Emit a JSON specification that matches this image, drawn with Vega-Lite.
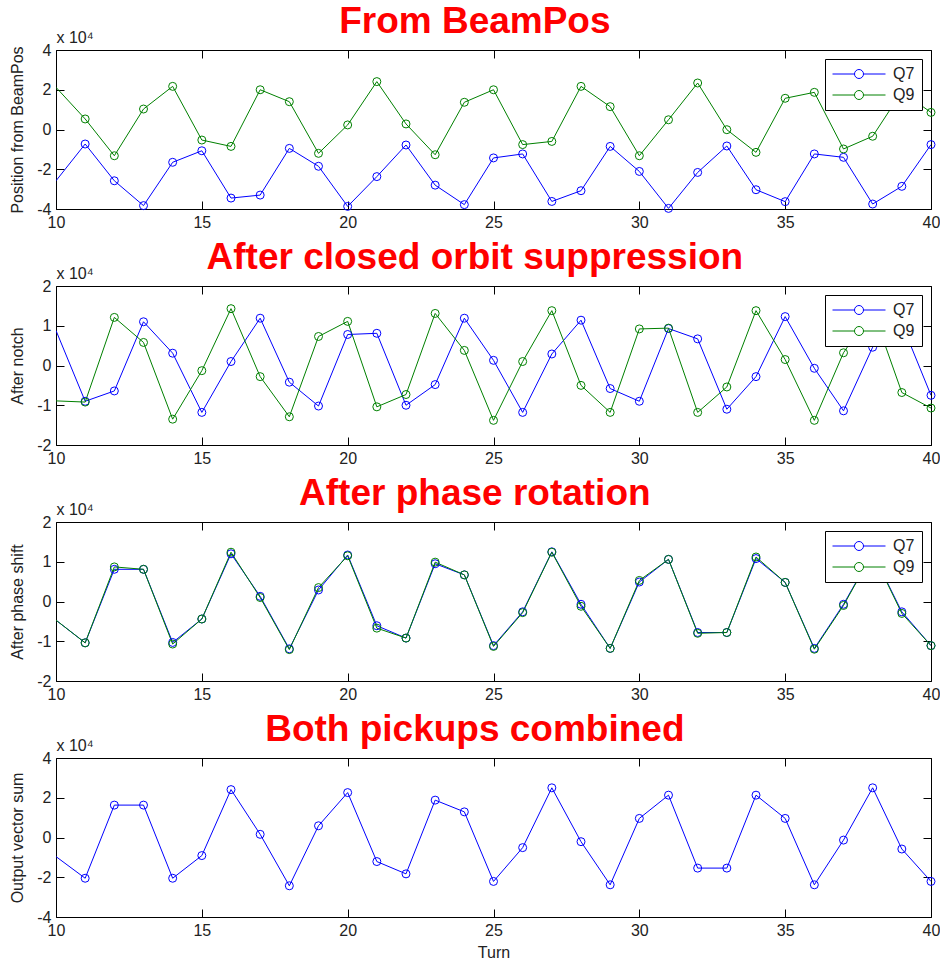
{
  "$schema": "https://vega.github.io/schema/vega-lite/v6.json",
  "background": "white",
  "padding": {"left": 9, "top": 2, "right": 0, "bottom": 2},
  "config": {
    "font": "Liberation Sans",
    "view": {"stroke": "black", "strokeWidth": 1},
    "axis": {"grid": false, "domain": false, "tickColor": "black", "tickWidth": 1, "tickSize": -8, "labelFont": "Liberation Sans", "labelFontSize": 16, "labelColor": "#222222", "titleFont": "Liberation Sans", "titleFontSize": 16, "titleFontWeight": "normal", "titleColor": "#222222", "labelFlush": false, "labelOverlap": false, "labelPadding": 13},
    "axisY": {"titlePadding": 11},
    "axisX": {"titlePadding": 6},
    "title": {"font": "Liberation Sans", "fontSize": 37, "fontWeight": "bold", "color": "#ff0000", "anchor": "middle", "frame": "bounds", "baseline": "alphabetic", "offset": -12},
    "legend": {"orient": "top-right", "offset": 9, "fillColor": "white", "strokeColor": "black", "padding": 7, "labelFont": "Liberation Sans", "labelFontSize": 16, "labelColor": "#222222", "symbolType": "M-1,0L-0.17,0M0.17,0L1,0M0.17,0A0.17,0.17,0,1,1,-0.17,0A0.17,0.17,0,1,1,0.17,0", "symbolSize": 2809, "symbolStrokeWidth": 1, "symbolFillColor": "transparent", "rowPadding": 5, "labelOffset": 7, "clipHeight": 16},
    "concat": {"spacing": 7}
  },
  "resolve": {"scale": {"color": "independent"}, "legend": {"color": "independent"}},
  "datasets": {
    "p1": [
      {"turn":10,"series":"Q7","value":-25800},{"turn":11,"series":"Q7","value":-7300},{"turn":12,"series":"Q7","value":-25800},{"turn":13,"series":"Q7","value":-38300},{"turn":14,"series":"Q7","value":-16500},{"turn":15,"series":"Q7","value":-10700},{"turn":16,"series":"Q7","value":-34500},{"turn":17,"series":"Q7","value":-33000},{"turn":18,"series":"Q7","value":-9500},{"turn":19,"series":"Q7","value":-18500},{"turn":20,"series":"Q7","value":-38700},{"turn":21,"series":"Q7","value":-23700},{"turn":22,"series":"Q7","value":-7800},{"turn":23,"series":"Q7","value":-28000},{"turn":24,"series":"Q7","value":-37800},{"turn":25,"series":"Q7","value":-14300},{"turn":26,"series":"Q7","value":-12300},{"turn":27,"series":"Q7","value":-36200},{"turn":28,"series":"Q7","value":-30800},{"turn":29,"series":"Q7","value":-8500},{"turn":30,"series":"Q7","value":-21100},{"turn":31,"series":"Q7","value":-39700},{"turn":32,"series":"Q7","value":-21600},{"turn":33,"series":"Q7","value":-8300},{"turn":34,"series":"Q7","value":-30300},{"turn":35,"series":"Q7","value":-36300},{"turn":36,"series":"Q7","value":-12300},{"turn":37,"series":"Q7","value":-14000},{"turn":38,"series":"Q7","value":-37500},{"turn":39,"series":"Q7","value":-28600},{"turn":40,"series":"Q7","value":-7600},
      {"turn":10,"series":"Q9","value":21200},{"turn":11,"series":"Q9","value":5300},{"turn":12,"series":"Q9","value":-13200},{"turn":13,"series":"Q9","value":10300},{"turn":14,"series":"Q9","value":21700},{"turn":15,"series":"Q9","value":-5300},{"turn":16,"series":"Q9","value":-8500},{"turn":17,"series":"Q9","value":20000},{"turn":18,"series":"Q9","value":14000},{"turn":19,"series":"Q9","value":-12000},{"turn":20,"series":"Q9","value":2300},{"turn":21,"series":"Q9","value":24100},{"turn":22,"series":"Q9","value":2800},{"turn":23,"series":"Q9","value":-12700},{"turn":24,"series":"Q9","value":13700},{"turn":25,"series":"Q9","value":20000},{"turn":26,"series":"Q9","value":-7600},{"turn":27,"series":"Q9","value":-6000},{"turn":28,"series":"Q9","value":21700},{"turn":29,"series":"Q9","value":11500},{"turn":30,"series":"Q9","value":-13200},{"turn":31,"series":"Q9","value":4900},{"turn":32,"series":"Q9","value":23400},{"turn":33,"series":"Q9","value":-100},{"turn":34,"series":"Q9","value":-11500},{"turn":35,"series":"Q9","value":15700},{"turn":36,"series":"Q9","value":18700},{"turn":37,"series":"Q9","value":-9800},{"turn":38,"series":"Q9","value":-3400},{"turn":39,"series":"Q9","value":19000},{"turn":40,"series":"Q9","value":8600}
    ],
    "p2": [
      {"turn":10,"series":"Q7","value":8800},{"turn":11,"series":"Q7","value":-9000},{"turn":12,"series":"Q7","value":-6400},{"turn":13,"series":"Q7","value":11000},{"turn":14,"series":"Q7","value":3100},{"turn":15,"series":"Q7","value":-11800},{"turn":16,"series":"Q7","value":1000},{"turn":17,"series":"Q7","value":11900},{"turn":18,"series":"Q7","value":-4200},{"turn":19,"series":"Q7","value":-10200},{"turn":20,"series":"Q7","value":7800},{"turn":21,"series":"Q7","value":8100},{"turn":22,"series":"Q7","value":-10000},{"turn":23,"series":"Q7","value":-4800},{"turn":24,"series":"Q7","value":11900},{"turn":25,"series":"Q7","value":1300},{"turn":26,"series":"Q7","value":-11800},{"turn":27,"series":"Q7","value":2900},{"turn":28,"series":"Q7","value":11400},{"turn":29,"series":"Q7","value":-5800},{"turn":30,"series":"Q7","value":-9000},{"turn":31,"series":"Q7","value":9300},{"turn":32,"series":"Q7","value":6700},{"turn":33,"series":"Q7","value":-11000},{"turn":34,"series":"Q7","value":-2800},{"turn":35,"series":"Q7","value":12300},{"turn":36,"series":"Q7","value":-700},{"turn":37,"series":"Q7","value":-11400},{"turn":38,"series":"Q7","value":4600},{"turn":39,"series":"Q7","value":10500},{"turn":40,"series":"Q7","value":-7500},
      {"turn":10,"series":"Q9","value":-8900},{"turn":11,"series":"Q9","value":-9200},{"turn":12,"series":"Q9","value":12100},{"turn":13,"series":"Q9","value":5800},{"turn":14,"series":"Q9","value":-13500},{"turn":15,"series":"Q9","value":-1300},{"turn":16,"series":"Q9","value":14300},{"turn":17,"series":"Q9","value":-2800},{"turn":18,"series":"Q9","value":-12900},{"turn":19,"series":"Q9","value":7300},{"turn":20,"series":"Q9","value":11100},{"turn":21,"series":"Q9","value":-10400},{"turn":22,"series":"Q9","value":-7300},{"turn":23,"series":"Q9","value":13100},{"turn":24,"series":"Q9","value":3800},{"turn":25,"series":"Q9","value":-13800},{"turn":26,"series":"Q9","value":1000},{"turn":27,"series":"Q9","value":13800},{"turn":28,"series":"Q9","value":-5000},{"turn":29,"series":"Q9","value":-11800},{"turn":30,"series":"Q9","value":9200},{"turn":31,"series":"Q9","value":9400},{"turn":32,"series":"Q9","value":-11800},{"turn":33,"series":"Q9","value":-5400},{"turn":34,"series":"Q9","value":13800},{"turn":35,"series":"Q9","value":1500},{"turn":36,"series":"Q9","value":-13800},{"turn":37,"series":"Q9","value":3200},{"turn":38,"series":"Q9","value":14000},{"turn":39,"series":"Q9","value":-6800},{"turn":40,"series":"Q9","value":-10700}
    ],
    "p3": [
      {"turn":10,"series":"Q7","value":-4700},{"turn":11,"series":"Q7","value":-10400},{"turn":12,"series":"Q7","value":8100},{"turn":13,"series":"Q7","value":8100},{"turn":14,"series":"Q7","value":-10300},{"turn":15,"series":"Q7","value":-4400},{"turn":16,"series":"Q7","value":12000},{"turn":17,"series":"Q7","value":1300},{"turn":18,"series":"Q7","value":-11900},{"turn":19,"series":"Q7","value":2900},{"turn":20,"series":"Q7","value":11700},{"turn":21,"series":"Q7","value":-6100},{"turn":22,"series":"Q7","value":-9200},{"turn":23,"series":"Q7","value":9500},{"turn":24,"series":"Q7","value":6700},{"turn":25,"series":"Q7","value":-11100},{"turn":26,"series":"Q7","value":-2600},{"turn":27,"series":"Q7","value":12500},{"turn":28,"series":"Q7","value":-700},{"turn":29,"series":"Q7","value":-11800},{"turn":30,"series":"Q7","value":4900},{"turn":31,"series":"Q7","value":10600},{"turn":32,"series":"Q7","value":-7800},{"turn":33,"series":"Q7","value":-7800},{"turn":34,"series":"Q7","value":10800},{"turn":35,"series":"Q7","value":4800},{"turn":36,"series":"Q7","value":-11800},{"turn":37,"series":"Q7","value":-700},{"turn":38,"series":"Q7","value":12200},{"turn":39,"series":"Q7","value":-2600},{"turn":40,"series":"Q7","value":-11100},
      {"turn":10,"series":"Q9","value":-4700},{"turn":11,"series":"Q9","value":-10400},{"turn":12,"series":"Q9","value":8700},{"turn":13,"series":"Q9","value":8100},{"turn":14,"series":"Q9","value":-10700},{"turn":15,"series":"Q9","value":-4400},{"turn":16,"series":"Q9","value":12400},{"turn":17,"series":"Q9","value":1000},{"turn":18,"series":"Q9","value":-12100},{"turn":19,"series":"Q9","value":3500},{"turn":20,"series":"Q9","value":11500},{"turn":21,"series":"Q9","value":-6700},{"turn":22,"series":"Q9","value":-9200},{"turn":23,"series":"Q9","value":9900},{"turn":24,"series":"Q9","value":6700},{"turn":25,"series":"Q9","value":-11300},{"turn":26,"series":"Q9","value":-2800},{"turn":27,"series":"Q9","value":12400},{"turn":28,"series":"Q9","value":-1200},{"turn":29,"series":"Q9","value":-11800},{"turn":30,"series":"Q9","value":5300},{"turn":31,"series":"Q9","value":10600},{"turn":32,"series":"Q9","value":-8000},{"turn":33,"series":"Q9","value":-7800},{"turn":34,"series":"Q9","value":11200},{"turn":35,"series":"Q9","value":4800},{"turn":36,"series":"Q9","value":-12000},{"turn":37,"series":"Q9","value":-1000},{"turn":38,"series":"Q9","value":12200},{"turn":39,"series":"Q9","value":-3000},{"turn":40,"series":"Q9","value":-11100}
    ],
    "p4": [
      {"turn":10,"value":-9600},{"turn":11,"value":-20500},{"turn":12,"value":16300},{"turn":13,"value":16300},{"turn":14,"value":-20500},{"turn":15,"value":-9100},{"turn":16,"value":24100},{"turn":17,"value":1600},{"turn":18,"value":-24300},{"turn":19,"value":5900},{"turn":20,"value":22600},{"turn":21,"value":-12100},{"turn":22,"value":-18300},{"turn":23,"value":18800},{"turn":24,"value":12900},{"turn":25,"value":-22100},{"turn":26,"value":-5100},{"turn":27,"value":25000},{"turn":28,"value":-2100},{"turn":29,"value":-23800},{"turn":30,"value":9600},{"turn":31,"value":21300},{"turn":32,"value":-15400},{"turn":33,"value":-15400},{"turn":34,"value":21300},{"turn":35,"value":9600},{"turn":36,"value":-23800},{"turn":37,"value":-1300},{"turn":38,"value":25000},{"turn":39,"value":-5800},{"turn":40,"value":-22100}
    ]
  },
  "vconcat": [
    {
      "title": {"text": "From BeamPos"},
      "width": 875, "height": 159,
      "data": {"name": "p1"},
      "layer": [
        {"mark": {"type": "line", "strokeWidth": 1, "clip": true},
         "encoding": {
           "x": {"field": "turn", "type": "quantitative", "scale": {"domain": [10, 40], "nice": false, "zero": false}, "axis": {"orient": "bottom", "values": [10,15,20,25,30,35,40], "title": null}},
           "y": {"field": "value", "type": "quantitative", "scale": {"domain": [-40000, 40000], "nice": false, "zero": false}, "axis": {"orient": "left", "values": [-40000,-20000,0,20000,40000], "labelExpr": "datum.value/10000", "title": "Position from BeamPos"}},
           "color": {"field": "series", "type": "nominal", "scale": {"domain": ["Q7","Q9"], "range": ["#0000ff","#008000"]}, "legend": {"title": null}}
         }},
        {"transform": [{"filter": "datum.turn > 10"}],
         "mark": {"type": "point", "shape": "circle", "filled": false, "size": 64, "strokeWidth": 1, "opacity": 1},
         "encoding": {
           "x": {"field": "turn", "type": "quantitative", "axis": null},
           "y": {"field": "value", "type": "quantitative", "axis": null},
           "color": {"field": "series", "type": "nominal"}
         }},
        {"mark": {"type": "point", "opacity": 0, "clip": true},
         "encoding": {
           "x": {"field": "turn", "type": "quantitative", "axis": {"orient": "top", "values": [10,15,20,25,30,35,40], "labels": false, "title": "x 10⁴", "titleX": 0, "titleY": -8, "titleAlign": "left", "titleBaseline": "alphabetic", "titleAngle": 0}},
           "y": {"field": "value", "type": "quantitative", "axis": {"orient": "right", "values": [-40000,-20000,0,20000,40000], "labels": false, "title": null}}
         }}
      ],
      "resolve": {"axis": {"x": "independent", "y": "independent"}}
    },
    {
      "title": {"text": "After closed orbit suppression"},
      "width": 875, "height": 159,
      "data": {"name": "p2"},
      "layer": [
        {"mark": {"type": "line", "strokeWidth": 1, "clip": true},
         "encoding": {
           "x": {"field": "turn", "type": "quantitative", "scale": {"domain": [10, 40], "nice": false, "zero": false}, "axis": {"orient": "bottom", "values": [10,15,20,25,30,35,40], "title": null}},
           "y": {"field": "value", "type": "quantitative", "scale": {"domain": [-20000, 20000], "nice": false, "zero": false}, "axis": {"orient": "left", "values": [-20000,-10000,0,10000,20000], "labelExpr": "datum.value/10000", "title": "After notch"}},
           "color": {"field": "series", "type": "nominal", "scale": {"domain": ["Q7","Q9"], "range": ["#0000ff","#008000"]}, "legend": {"title": null}}
         }},
        {"transform": [{"filter": "datum.turn > 10"}],
         "mark": {"type": "point", "shape": "circle", "filled": false, "size": 64, "strokeWidth": 1, "opacity": 1},
         "encoding": {
           "x": {"field": "turn", "type": "quantitative", "axis": null},
           "y": {"field": "value", "type": "quantitative", "axis": null},
           "color": {"field": "series", "type": "nominal"}
         }},
        {"mark": {"type": "point", "opacity": 0, "clip": true},
         "encoding": {
           "x": {"field": "turn", "type": "quantitative", "axis": {"orient": "top", "values": [10,15,20,25,30,35,40], "labels": false, "title": "x 10⁴", "titleX": 0, "titleY": -8, "titleAlign": "left", "titleBaseline": "alphabetic", "titleAngle": 0}},
           "y": {"field": "value", "type": "quantitative", "axis": {"orient": "right", "values": [-20000,-10000,0,10000,20000], "labels": false, "title": null}}
         }}
      ],
      "resolve": {"axis": {"x": "independent", "y": "independent"}}
    },
    {
      "title": {"text": "After phase rotation"},
      "width": 875, "height": 159,
      "data": {"name": "p3"},
      "layer": [
        {"mark": {"type": "line", "strokeWidth": 1, "clip": true},
         "encoding": {
           "x": {"field": "turn", "type": "quantitative", "scale": {"domain": [10, 40], "nice": false, "zero": false}, "axis": {"orient": "bottom", "values": [10,15,20,25,30,35,40], "title": null}},
           "y": {"field": "value", "type": "quantitative", "scale": {"domain": [-20000, 20000], "nice": false, "zero": false}, "axis": {"orient": "left", "values": [-20000,-10000,0,10000,20000], "labelExpr": "datum.value/10000", "title": "After phase shift"}},
           "color": {"field": "series", "type": "nominal", "scale": {"domain": ["Q7","Q9"], "range": ["#0000ff","#008000"]}, "legend": {"title": null}}
         }},
        {"transform": [{"filter": "datum.turn > 10"}],
         "mark": {"type": "point", "shape": "circle", "filled": false, "size": 64, "strokeWidth": 1, "opacity": 1},
         "encoding": {
           "x": {"field": "turn", "type": "quantitative", "axis": null},
           "y": {"field": "value", "type": "quantitative", "axis": null},
           "color": {"field": "series", "type": "nominal"}
         }},
        {"mark": {"type": "point", "opacity": 0, "clip": true},
         "encoding": {
           "x": {"field": "turn", "type": "quantitative", "axis": {"orient": "top", "values": [10,15,20,25,30,35,40], "labels": false, "title": "x 10⁴", "titleX": 0, "titleY": -8, "titleAlign": "left", "titleBaseline": "alphabetic", "titleAngle": 0}},
           "y": {"field": "value", "type": "quantitative", "axis": {"orient": "right", "values": [-20000,-10000,0,10000,20000], "labels": false, "title": null}}
         }}
      ],
      "resolve": {"axis": {"x": "independent", "y": "independent"}}
    },
    {
      "title": {"text": "Both pickups combined"},
      "width": 875, "height": 159,
      "data": {"name": "p4"},
      "layer": [
        {"mark": {"type": "line", "strokeWidth": 1, "clip": true, "color": "#0000ff"},
         "encoding": {
           "x": {"field": "turn", "type": "quantitative", "scale": {"domain": [10, 40], "nice": false, "zero": false}, "axis": {"orient": "bottom", "values": [10,15,20,25,30,35,40], "title": "Turn"}},
           "y": {"field": "value", "type": "quantitative", "scale": {"domain": [-40000, 40000], "nice": false, "zero": false}, "axis": {"orient": "left", "values": [-40000,-20000,0,20000,40000], "labelExpr": "datum.value/10000", "title": "Output vector sum"}}
         }},
        {"transform": [{"filter": "datum.turn > 10"}],
         "mark": {"type": "point", "shape": "circle", "filled": false, "size": 64, "strokeWidth": 1, "opacity": 1, "color": "#0000ff"},
         "encoding": {
           "x": {"field": "turn", "type": "quantitative", "axis": null},
           "y": {"field": "value", "type": "quantitative", "axis": null}
         }},
        {"mark": {"type": "point", "opacity": 0, "clip": true},
         "encoding": {
           "x": {"field": "turn", "type": "quantitative", "axis": {"orient": "top", "values": [10,15,20,25,30,35,40], "labels": false, "title": "x 10⁴", "titleX": 0, "titleY": -8, "titleAlign": "left", "titleBaseline": "alphabetic", "titleAngle": 0}},
           "y": {"field": "value", "type": "quantitative", "axis": {"orient": "right", "values": [-40000,-20000,0,20000,40000], "labels": false, "title": null}}
         }}
      ],
      "resolve": {"axis": {"x": "independent", "y": "independent"}}
    }
  ]
}
